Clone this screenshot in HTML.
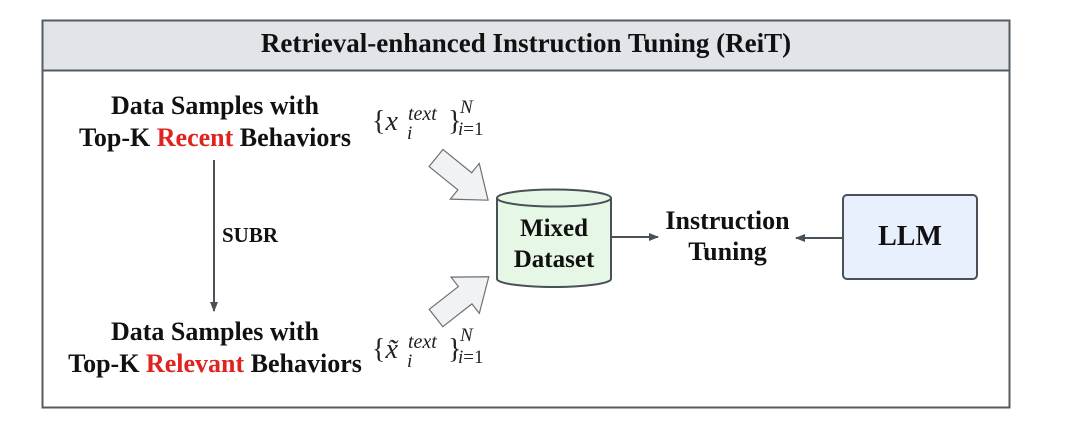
<!DOCTYPE html>
<html><head><style>
body{margin:0;background:#fff;width:1080px;height:434px;position:relative;overflow:hidden;font-family:"Liberation Serif",serif}
.t{position:absolute;font-weight:bold;color:#111;text-align:center;white-space:nowrap}
.m{position:absolute;font-family:"Liberation Serif",serif;color:#222;white-space:nowrap;line-height:1}
</style></head><body>
<svg width="1080" height="434" style="position:absolute;left:0;top:0">
<defs><marker id="a" markerWidth="10" markerHeight="8" refX="9" refY="4" orient="auto" markerUnits="userSpaceOnUse"><path d="M0,0 L10,4 L0,8 z" fill="#4a5058"/></marker></defs>
<rect x="42.5" y="20.5" width="967" height="387" fill="#fff" stroke="#555b62" stroke-width="2"/>
<rect x="42.5" y="20.5" width="967" height="50" fill="#e1e4e8" stroke="#555b62" stroke-width="2"/>
<line x1="214" y1="160" x2="214" y2="311" stroke="#4a5058" stroke-width="2" marker-end="url(#a)"/>
<g transform="translate(436,158) rotate(39)"><polygon points="0,-11 37,-11 37,-23 67,0 37,23 37,11 0,11" fill="#f1f2f3" stroke="#6b7076" stroke-width="1.2"/></g>
<g transform="translate(436,318) rotate(-38)"><polygon points="0,-11 37,-11 37,-23 67,0 37,23 37,11 0,11" fill="#f1f2f3" stroke="#6b7076" stroke-width="1.2"/></g>
<path d="M497,198 L497,279 A57,8 0 0 0 611,279 L611,198" fill="#e6f7e6" stroke="#4a5058" stroke-width="2"/>
<ellipse cx="554" cy="198" rx="57" ry="8.5" fill="#e6f7e6" stroke="#4a5058" stroke-width="2"/>
<line x1="611" y1="237" x2="658" y2="237" stroke="#4a5058" stroke-width="2" marker-end="url(#a)"/>
<rect x="843" y="195" width="134" height="84" rx="4" fill="#e8f0fd" stroke="#4a5058" stroke-width="2"/>
<line x1="843" y1="238" x2="796" y2="238" stroke="#4a5058" stroke-width="2" marker-end="url(#a)"/>
</svg>
<div class="t" style="left:42px;width:968px;top:28px;font-size:27px">Retrieval-enhanced Instruction Tuning (ReiT)</div>
<div class="t" style="left:55px;width:320px;top:90px;font-size:26px;line-height:32px">Data Samples with<br>Top-K <span style="color:#e0231f">Recent</span> Behaviors</div>
<div class="t" style="left:55px;width:320px;top:316px;font-size:26px;line-height:32px">Data Samples with<br>Top-K <span style="color:#e0231f">Relevant</span> Behaviors</div>
<div class="t" style="left:222px;top:223px;font-size:21px">SUBR</div>
<div class="t" style="left:497px;width:114px;top:213px;font-size:25px;line-height:31px">Mixed<br>Dataset</div>
<div class="t" style="left:650px;width:155px;top:205px;font-size:26px;line-height:31px">Instruction<br>Tuning</div>
<div class="t" style="left:843px;width:134px;top:221px;font-size:28px">LLM</div>
<div class="m" style="left:372px;top:108px;font-size:28px">{<i>x</i></div>
<div class="m" style="left:408px;top:104px;font-size:20px;font-style:italic">text</div>
<div class="m" style="left:407px;top:124px;font-size:19px;font-style:italic">i</div>
<div class="m" style="left:448px;top:108px;font-size:28px">}</div>
<div class="m" style="left:460px;top:98px;font-size:19px;font-style:italic">N</div>
<div class="m" style="left:458px;top:120px;font-size:19px"><i>i</i>=1</div>
<div class="m" style="left:372px;top:336px;font-size:28px">{<i>x̃</i></div>
<div class="m" style="left:408px;top:332px;font-size:20px;font-style:italic">text</div>
<div class="m" style="left:407px;top:352px;font-size:19px;font-style:italic">i</div>
<div class="m" style="left:448px;top:336px;font-size:28px">}</div>
<div class="m" style="left:460px;top:326px;font-size:19px;font-style:italic">N</div>
<div class="m" style="left:458px;top:348px;font-size:19px"><i>i</i>=1</div>
</body></html>
